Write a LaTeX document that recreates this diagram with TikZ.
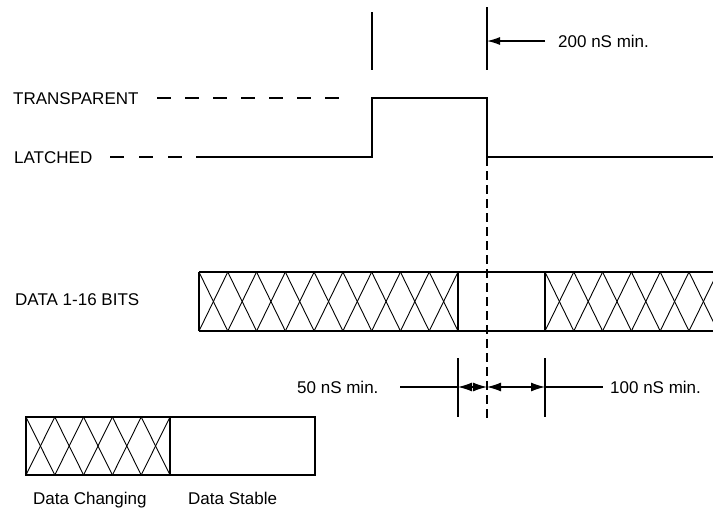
\documentclass[tikz,border=0pt]{standalone}
\usepackage{fontspec}
\setmainfont{Liberation Sans}
\usetikzlibrary{arrows.meta}
\begin{document}
\begin{tikzpicture}[x=1pt,y=-1pt,
  thinln/.style={line width=1.2pt},
  waveln/.style={line width=1.4pt},
  boxln/.style={line width=1.3pt},
  xln/.style={line width=0.9pt},
  lbl/.style={font=\fontsize{17}{20}\selectfont, inner sep=0pt, anchor=base west},
  dashlead/.style={line width=1.3pt, dash pattern=on 14pt off 14pt},
  edgedash/.style={line width=2.6pt, dash pattern=on 9pt off 5pt},
  tipone/.style={-{Latex[length=13pt,width=8pt]}},
  tiptwo/.style={{Latex[length=14pt,width=9pt]}-{Latex[length=14pt,width=9pt]}}]
\useasboundingbox (0,0) rectangle (713,512);
\clip (0,0) rectangle (713,512);

% labels
\node[lbl] (ltransp) at (13,104) {TRANSPARENT};
\node[lbl] (llatch) at (14,163) {LATCHED};
\node[lbl] (ldata) at (15,305) {DATA 1-16 BITS};
\node[lbl] (l200) at (558,47) {200 nS min.};
\node[lbl] (l50) at (297,393) {50 nS min.};
\node[lbl] (l100) at (610,393) {100 nS min.};
\node[lbl] (lchg) at (33,504) {Data Changing};
\node[lbl] (lstb) at (188,504) {Data Stable};

% reference verticals
\coordinate (va1) at (372,12); \coordinate (va2) at (372,70);
\coordinate (vb1) at (487,7);  \coordinate (vb2) at (487,70);
\draw[thinln] (va1) -- (va2);
\draw[thinln] (vb1) -- (vb2);

% 200 nS arrow
\coordinate (a200s) at (545,41); \coordinate (a200e) at (487,41);
\draw[thinln, tipone] (a200s) -- (a200e);

% dashed leaders
\draw[dashlead] (157,98) -- (343,98);
\draw[dashlead, dash pattern=on 14pt off 15pt] (110,157) -- (182,157);

% latch waveform
\draw[waveln] (196,157) -- (372,157) -- (372,98) -- (487,98) -- (487,157) -- (713,157);

% dashed edge line
\coordinate (de1) at (487,157); \coordinate (de2) at (487,418);
\draw[edgedash] (de1) -- (de2);

% data bus
\def\bt{272}\def\bb{331}
\draw[boxln] (199,\bt) -- (713,\bt);
\draw[boxln] (199,\bb) -- (713,\bb);
\draw[boxln] (199,\bt) -- (199,\bb);
\draw[boxln] (458,\bt) -- (458,\bb);
\draw[boxln] (545,\bt) -- (545,\bb);
\foreach \i in {0,...,8} {
  \pgfmathsetmacro{\xa}{199+\i*28.78}
  \pgfmathsetmacro{\xb}{199+(\i+1)*28.78}
  \draw[xln] (\xa,\bt) -- (\xb,\bb);
  \draw[xln] (\xa,\bb) -- (\xb,\bt);
}
\foreach \i in {0,...,6} {
  \pgfmathsetmacro{\xa}{545+\i*28.8}
  \pgfmathsetmacro{\xb}{545+(\i+1)*28.8}
  \draw[xln] (\xa,\bt) -- (\xb,\bb);
  \draw[xln] (\xa,\bb) -- (\xb,\bt);
}

% timing dimensions
\coordinate (t1a) at (458,358); \coordinate (t1b) at (458,417);
\coordinate (t2a) at (545,358); \coordinate (t2b) at (545,417);
\draw[thinln] (t1a) -- (t1b);
\draw[thinln] (t2a) -- (t2b);
\coordinate (d0) at (400,387); \coordinate (d1) at (458,387);
\coordinate (d2) at (487,387); \coordinate (d3) at (545,387);
\coordinate (d4) at (603,387);
\draw[thinln] (d0) -- (d1);
\draw[thinln, tiptwo] (d1) -- (d2);
\draw[thinln, tiptwo] (d2) -- (d3);
\draw[thinln] (d3) -- (d4);

% legend
\draw[boxln] (26,417) rectangle (315,475);
\draw[boxln] (170,417) -- (170,475);
\foreach \i in {0,...,4} {
  \pgfmathsetmacro{\xa}{26+\i*28.8}
  \pgfmathsetmacro{\xb}{26+(\i+1)*28.8}
  \draw[xln] (\xa,417) -- (\xb,475);
  \draw[xln] (\xa,475) -- (\xb,417);
}
\end{tikzpicture}
\end{document}
